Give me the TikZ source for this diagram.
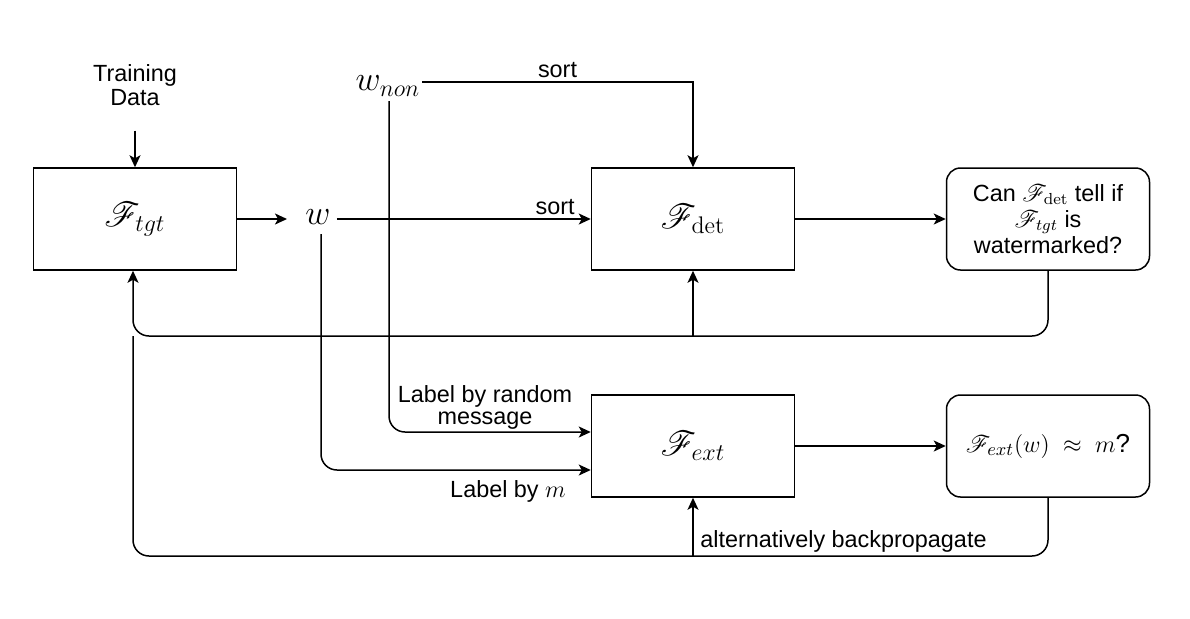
\documentclass[tikz,border=0pt]{standalone}
\usepackage[no-math]{fontspec}
\usepackage{mathrsfs}
\setmainfont{Liberation Sans}
\usetikzlibrary{arrows.meta}
\begin{document}
\begin{tikzpicture}[x=0.5pt,y=-0.5pt,
  every node/.style={font=\fontsize{11.7}{13}\selectfont},
  box/.style={draw, line width=0.75pt, minimum width=101.5pt, minimum height=51pt, inner sep=0pt},
  qbox/.style={box, rounded corners=7pt, align=center},
  mathbig/.style={font=\fontsize{16.5}{18}\selectfont},
  mathmid/.style={font=\fontsize{13}{15}\selectfont},
  arr/.style={line width=0.75pt, -{Stealth[length=6pt,width=5.5pt,inset=1.5pt]}},
  ln/.style={line width=0.75pt},
  lbl/.style={inner sep=1pt, align=center}]
\useasboundingbox (0,0) rectangle (1190,618);

% nodes
\node[align=center] (td) at (135,85) {Training\\[-1pt]Data};
\node[box, mathbig] (tgt) at (135,219) {$\mathscr{F}_{tgt}$};
\node[mathbig, inner sep=3pt] (w) at (318,217) {$w$};
\node[mathbig, inner sep=1pt] (wnon) at (388,86) {$w_{non}$};
\node[box, mathbig] (det) at (693,219) {$\mathscr{F}_{\mathrm{det}}$};
\node[box, mathbig] (ext) at (693,446) {$\mathscr{F}_{ext}$};
\node[qbox] (q1) at (1048,219) {Can $\mathscr{F}_{\mathrm{det}}$ tell if\\$\mathscr{F}_{tgt}$ is\\watermarked?};
\node[qbox, mathmid] (q2) at (1048,446) {$\mathscr{F}_{ext}(w)\;\approx\;m$?};

\coordinate (wnonR) at (422,82);
\coordinate (wnonB) at (389,101);
\coordinate (wB) at (321,234);
\coordinate (j1) at (693,336);
\coordinate (j2) at (693,556);
\coordinate (c1) at (133,336);

% connectors
\draw[arr] ([yshift=-9pt]td.south) -- (tgt.north);
\draw[arr] (tgt.east) -- (287,219);
\draw[arr] (w.east |- 0,219) -- (det.west) node[lbl, pos=0.86, above=1pt] (s1) {sort};
\draw[arr] (wnonR) -| (det.north) node[lbl, pos=0.25, above=1pt] (s2) {sort};
\draw[arr, rounded corners=8pt] (wnonB) |- (ext.west |- 0,432);
\node[lbl] (lrm) at (485,407) {Label by random\\[-2pt]message};
\draw[arr, rounded corners=8pt] (wB) |- (ext.west |- 0,470);
\node[lbl] (lm) at (508,491) {Label by $m$};
\draw[arr] (det.east) -- (q1.west);
\draw[arr] (ext.east) -- (q2.west);
\draw[arr, rounded corners=8pt] (q1.south) |- (c1) -- (tgt.south -| c1);
\draw[arr] (j1) -- (det.south);
\draw[ln, rounded corners=8pt] (q2.south) |- (133,556) -- (c1);
\draw[arr] (j2) -- (ext.south);
\node[lbl, anchor=south west] (bp) at (698,555) {alternatively backpropagate};
\end{tikzpicture}
\end{document}
